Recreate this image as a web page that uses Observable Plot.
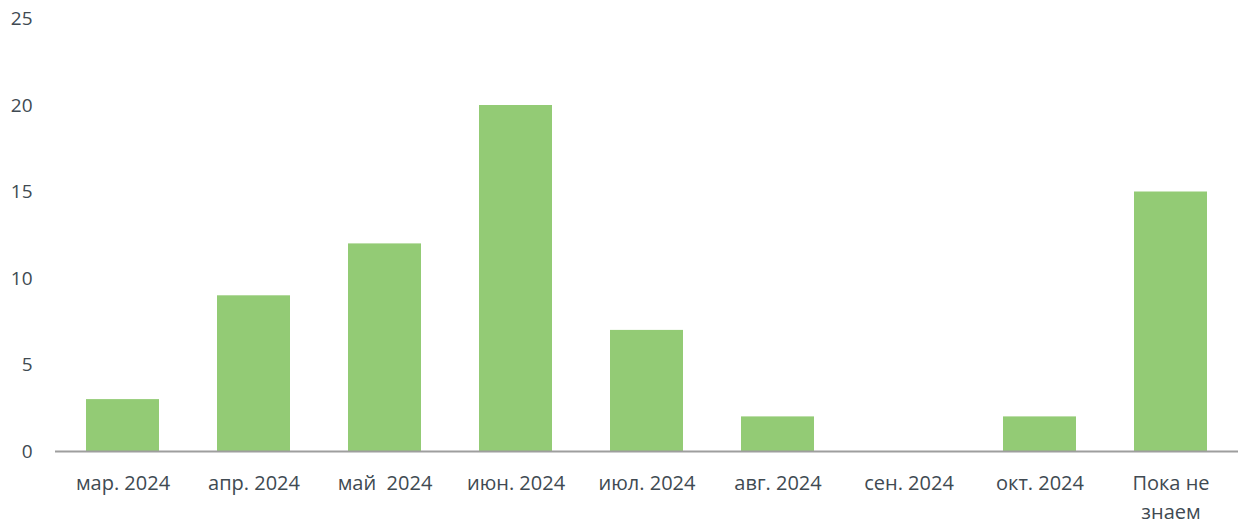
<!DOCTYPE html>
<html>
<head>
<meta charset="utf-8">
<script src="https://cdn.jsdelivr.net/npm/d3@7"></script>
<script src="https://cdn.jsdelivr.net/npm/@observablehq/plot@0.6"></script>
<style>
  html, body { margin: 0; padding: 0; background: #fff; }
  #chart svg { display: block; }
</style>
</head>
<body>
<div id="chart"></div>
<script>
const categories = ["мар. 2024", "апр. 2024", "май\u00a0 2024", "июн. 2024", "июл. 2024", "авг. 2024", "сен. 2024", "окт. 2024", "Пока не\nзнаем"];
const values = [3, 9, 12, 20, 7, 2, 0, 2, 15];
const yTicks = [0, 5, 10, 15, 20, 25];

const data = categories.map((c, i) => ({category: c, value: values[i]}));
const textColor = "#404a52";

const chart = Plot.plot({
  width: 1242,
  height: 525,
  marginLeft: 55,
  marginRight: 4,
  marginTop: 18.5,
  marginBottom: 74,
  style: {fontFamily: "'Open Sans', sans-serif", fontSize: "20px", color: textColor, background: "#fff"},
  x: {domain: categories, paddingInner: 0.445, paddingOuter: 0.2225, label: null},
  y: {domain: [0, 25], label: null},
  marks: [
    Plot.barY(data, {x: "category", y: "value", fill: "#93cb75"}),
    Plot.ruleY([0], {stroke: "#9e9e9e", strokeWidth: 2}),
    Plot.axisX({tickSize: 0, tickPadding: 18, lineHeight: 1.45, fill: textColor, fontSize: 20, label: null}),
    Plot.axisY({ticks: yTicks, tickSize: 0, tickPadding: 23, fill: textColor, fontSize: 19, label: null})
  ]
});
document.getElementById("chart").appendChild(chart);
</script>
</body>
</html>
